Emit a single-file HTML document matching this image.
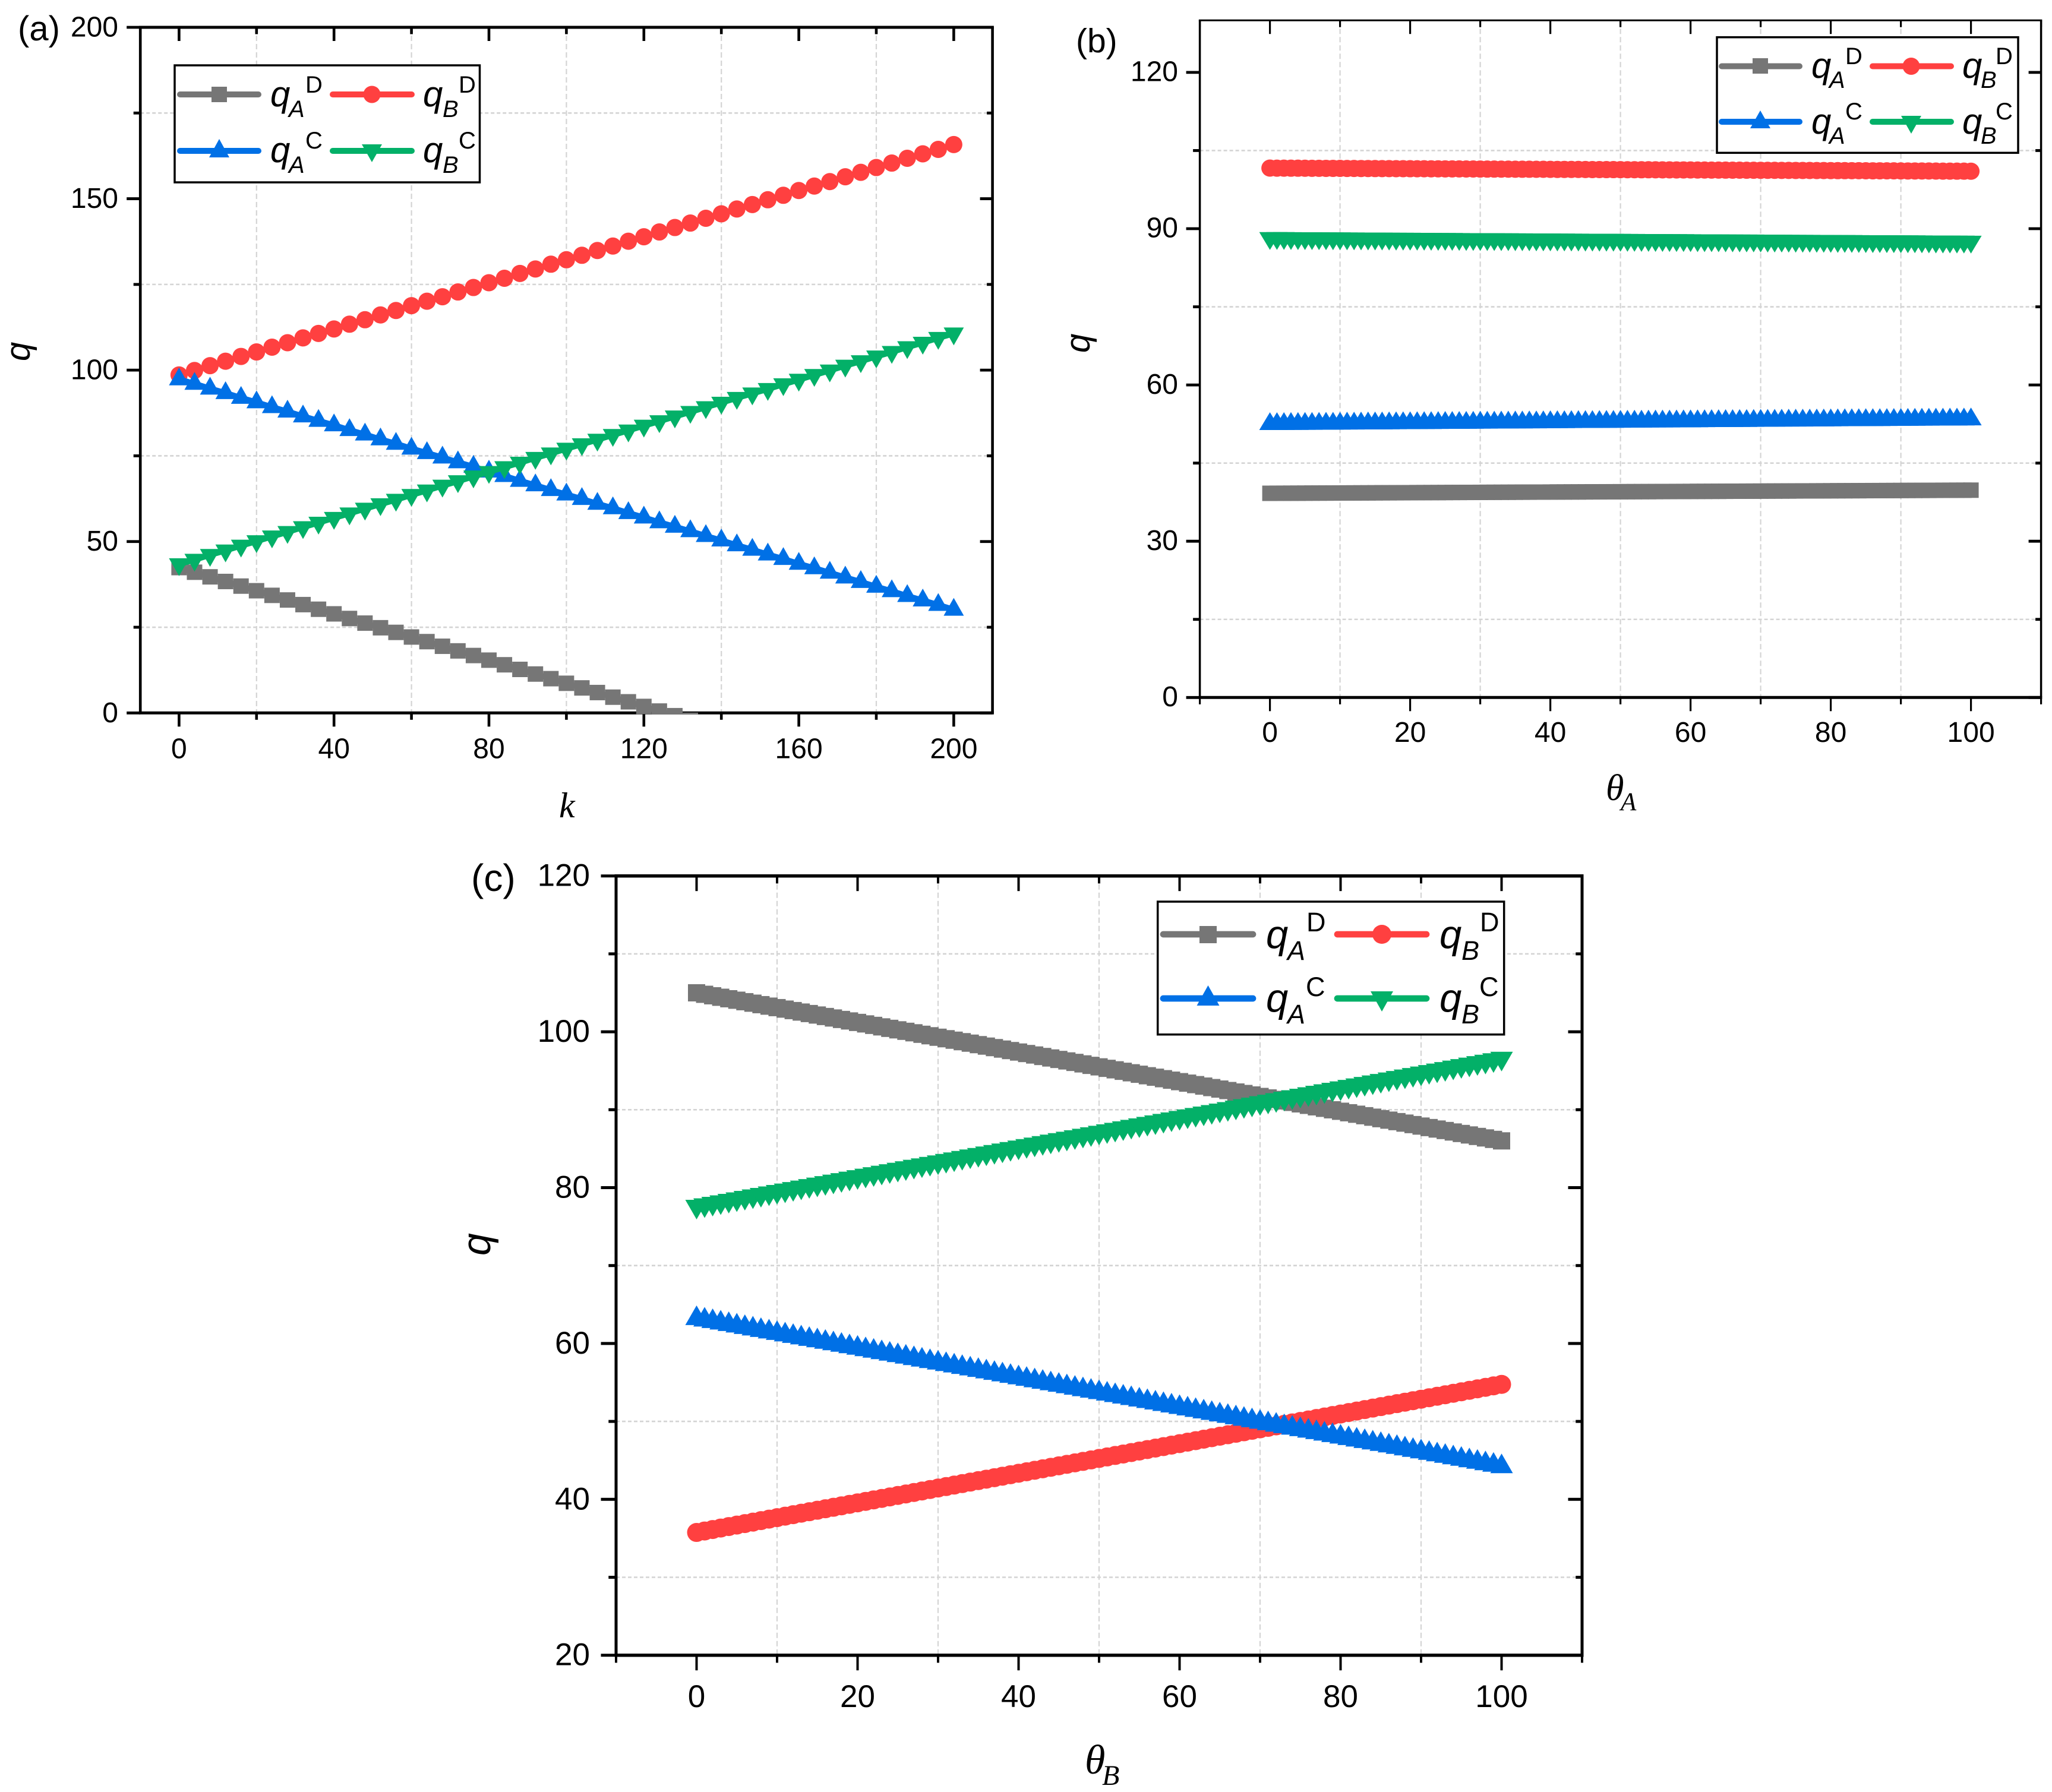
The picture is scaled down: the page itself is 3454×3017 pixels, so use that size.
<!DOCTYPE html>
<html lang="en">
<head>
<meta charset="utf-8">
<title>q versus k, theta A and theta B</title>
<style>
html,body{margin:0;padding:0;background:#fff;}
svg{display:block;}
text{font-family:"Liberation Sans",sans-serif;fill:#000;}
.q{font-style:italic;}
.sub{font-style:italic;}
.serif{font-family:"Liberation Serif",serif;font-style:italic;}
</style>
</head>
<body>
<svg id="chart" width="3454" height="3017" viewBox="0 0 3454 3017">
<rect x="0" y="0" width="3454" height="3017" fill="#fff"/>
<defs>
<clipPath id="clip-a"><rect x="236" y="46" width="1435" height="1156.5"/></clipPath>
<clipPath id="clip-b"><rect x="2019" y="34" width="1417" height="1143"/></clipPath>
<clipPath id="clip-c"><rect x="1037" y="1474" width="1626" height="1315"/></clipPath>
</defs>
<g id="panel-a"></g>
<g id="panel-b"></g>
<g id="panel-c"></g>

<!-- Panel labels and axis titles -->
<text x="30" y="68" font-size="58">(a)</text>
<text x="1811" y="88" font-size="57">(b)</text>
<text x="793" y="1500" font-size="64">(c)</text>

<text class="q" font-size="58" transform="translate(50,608) rotate(-90)">q</text>
<text class="q" font-size="58" transform="translate(1834,594) rotate(-90)">q</text>
<text class="q" font-size="68" transform="translate(825,2114) rotate(-90)">q</text>

<text class="serif" x="941" y="1376" font-size="60">k</text>
<g>
<text class="serif" x="2703" y="1347" font-size="62">θ</text>
<text class="serif" x="2728" y="1364" font-size="43">A</text>
</g>
<g>
<text class="serif" x="1826" y="2986" font-size="70">θ</text>
<text class="serif" x="1855" y="3005" font-size="48">B</text>
</g>

<!-- Legend panel a -->
<g>
<rect x="294" y="110" width="513.5" height="197" fill="#fff" stroke="#000" stroke-width="3.5"/>
<g>
<line x1="303" y1="159" x2="435" y2="159" stroke="#767676" stroke-width="10" stroke-linecap="round"/>
<rect x="356" y="146" width="26" height="26" fill="#767676"/>
<text class="q" x="455" y="179" font-size="60">q</text><text class="sub" x="486" y="197" font-size="40">A</text><text x="514" y="156" font-size="40">D</text>
</g>
<g>
<line x1="560" y1="159" x2="693" y2="159" stroke="#FF4040" stroke-width="10" stroke-linecap="round"/>
<circle cx="626" cy="159" r="14.5" fill="#FF4040"/>
<text class="q" x="712" y="179" font-size="60">q</text><text class="sub" x="745" y="197" font-size="40">B</text><text x="772" y="156" font-size="40">D</text>
</g>
<g>
<line x1="303" y1="254" x2="435" y2="254" stroke="#0070E6" stroke-width="10" stroke-linecap="round"/>
<polygon points="369,234 386,265 352,265" fill="#0070E6"/>
<text class="q" x="455" y="273" font-size="60">q</text><text class="sub" x="486" y="291" font-size="40">A</text><text x="514" y="250" font-size="40">C</text>
</g>
<g>
<line x1="560" y1="254" x2="693" y2="254" stroke="#03B068" stroke-width="10" stroke-linecap="round"/>
<polygon points="626,273 609,243 643,243" fill="#03B068"/>
<text class="q" x="712" y="273" font-size="60">q</text><text class="sub" x="745" y="291" font-size="40">B</text><text x="772" y="250" font-size="40">C</text>
</g>
</g>

<!-- Legend panel b -->
<g>
<rect x="2890" y="62.7" width="507" height="194.6" fill="#fff" stroke="#000" stroke-width="3.5"/>
<g>
<line x1="2898" y1="111.5" x2="3029" y2="111.5" stroke="#767676" stroke-width="10" stroke-linecap="round"/>
<rect x="2950" y="98" width="26" height="26" fill="#767676"/>
<text class="q" x="3049" y="131" font-size="60">q</text><text class="sub" x="3079" y="148" font-size="40">A</text><text x="3106" y="108" font-size="40">D</text>
</g>
<g>
<line x1="3152" y1="111.5" x2="3284" y2="111.5" stroke="#FF4040" stroke-width="10" stroke-linecap="round"/>
<circle cx="3217" cy="111.5" r="14.5" fill="#FF4040"/>
<text class="q" x="3303" y="131" font-size="60">q</text><text class="sub" x="3334" y="148" font-size="40">B</text><text x="3359" y="108" font-size="40">D</text>
</g>
<g>
<line x1="2898" y1="205" x2="3029" y2="205" stroke="#0070E6" stroke-width="10" stroke-linecap="round"/>
<polygon points="2963,186 2980,216 2946,216" fill="#0070E6"/>
<text class="q" x="3049" y="225" font-size="60">q</text><text class="sub" x="3079" y="242" font-size="40">A</text><text x="3106" y="201" font-size="40">C</text>
</g>
<g>
<line x1="3152" y1="205" x2="3284" y2="205" stroke="#03B068" stroke-width="10" stroke-linecap="round"/>
<polygon points="3217,225 3200,195 3234,195" fill="#03B068"/>
<text class="q" x="3303" y="225" font-size="60">q</text><text class="sub" x="3334" y="242" font-size="40">B</text><text x="3359" y="201" font-size="40">C</text>
</g>
</g>

<!-- Legend panel c -->
<g>
<rect x="1948.7" y="1518" width="583" height="223.7" fill="#fff" stroke="#000" stroke-width="3.5"/>
<g>
<line x1="1958" y1="1573" x2="2109" y2="1573" stroke="#767676" stroke-width="10.7" stroke-linecap="round"/>
<rect x="2019" y="1559" width="29" height="29" fill="#767676"/>
<text class="q" x="2131" y="1596" font-size="67">q</text><text class="sub" x="2167" y="1616" font-size="45">A</text><text x="2199" y="1568" font-size="45">D</text>
</g>
<g>
<line x1="2251" y1="1573" x2="2401" y2="1573" stroke="#FF4040" stroke-width="10.7" stroke-linecap="round"/>
<circle cx="2326" cy="1573" r="16" fill="#FF4040"/>
<text class="q" x="2423" y="1596" font-size="67">q</text><text class="sub" x="2460" y="1616" font-size="45">B</text><text x="2491" y="1568" font-size="45">D</text>
</g>
<g>
<line x1="1958" y1="1681" x2="2109" y2="1681" stroke="#0070E6" stroke-width="10.7" stroke-linecap="round"/>
<polygon points="2033.5,1659 2052.5,1693 2014.5,1693" fill="#0070E6"/>
<text class="q" x="2131" y="1703" font-size="67">q</text><text class="sub" x="2167" y="1723" font-size="45">A</text><text x="2198" y="1677" font-size="45">C</text>
</g>
<g>
<line x1="2251" y1="1681" x2="2401" y2="1681" stroke="#03B068" stroke-width="10.7" stroke-linecap="round"/>
<polygon points="2326,1703 2307,1669 2345,1669" fill="#03B068"/>
<text class="q" x="2423" y="1703" font-size="67">q</text><text class="sub" x="2460" y="1723" font-size="45">B</text><text x="2490" y="1677" font-size="45">C</text>
</g>
</g>
</svg>

<script>
// ---------- Panel (a) data ----------
const kValues = [0,4,8,12,16,20,24,28,32,36,40,44,48,52,56,60,64,68,72,76,80,84,88,92,96,100,104,108,112,116,120,124,128,132,136,140,144,148,152,156,160,164,168,172,176,180,184,188,192,196,200];
const aQAD = [42.4,41.05,39.7,38.35,37.0,35.65,34.3,32.95,31.6,30.25,28.9,27.55,26.2,24.85,23.5,22.15,20.8,19.45,18.1,16.75,15.4,14.05,12.7,11.35,10.0,8.65,7.3,5.95,4.6,3.25,1.9,0.55,-0.8,-2.15,-3.5,-4.85,-6.2,-7.55,-8.9,-10.25,-11.6,-12.95,-14.3,-15.65,-17.0,-18.35,-19.7,-21.05,-22.4,-23.75,-25.1];
const aQBD = [98.6,99.9,101.3,102.6,104.0,105.3,106.7,108.0,109.4,110.7,112.0,113.4,114.7,116.1,117.4,118.8,120.1,121.4,122.8,124.1,125.5,126.8,128.2,129.5,130.9,132.2,133.5,134.9,136.2,137.6,138.9,140.3,141.6,142.9,144.3,145.6,147.0,148.3,149.7,151.0,152.4,153.7,155.0,156.4,157.7,159.1,160.4,161.8,163.1,164.4,165.8];
const aQAC = [97.3,96.0,94.6,93.3,91.9,90.6,89.2,87.9,86.5,85.2,83.9,82.5,81.2,79.8,78.5,77.1,75.8,74.5,73.1,71.8,70.4,69.1,67.7,66.4,65.0,63.7,62.4,61.0,59.7,58.3,57.0,55.6,54.3,53.0,51.6,50.3,48.9,47.6,46.2,44.9,43.5,42.2,40.9,39.5,38.2,36.8,35.5,34.1,32.8,31.5,30.1];
const aQBC = [43.4,44.7,46.1,47.4,48.8,50.1,51.5,52.8,54.2,55.5,56.9,58.2,59.6,60.9,62.2,63.6,64.9,66.3,67.6,69.0,70.3,71.7,73.0,74.4,75.7,77.1,78.4,79.7,81.1,82.4,83.8,85.1,86.5,87.8,89.2,90.5,91.9,93.2,94.5,95.9,97.2,98.6,99.9,101.3,102.6,104.0,105.3,106.7,108.0,109.4,110.7];
const aXTicks = [0,40,80,120,160,200];
const aXMinor = [20,60,100,140,180];
const aYTicks = [0,50,100,150,200];
const aYMinor = [25,75,125,175];

// ---------- Shared theta axis values ----------
const thetaValues = [0,1,2,3,4,5,6,7,8,9,10,11,12,13,14,15,16,17,18,19,20,21,22,23,24,25,26,27,28,29,30,31,32,33,34,35,36,37,38,39,40,41,42,43,44,45,46,47,48,49,50,51,52,53,54,55,56,57,58,59,60,61,62,63,64,65,66,67,68,69,70,71,72,73,74,75,76,77,78,79,80,81,82,83,84,85,86,87,88,89,90,91,92,93,94,95,96,97,98,99,100];
const thetaXTicks = [0,20,40,60,80,100];
const thetaXMinor = [-10,10,30,50,70,90,110];

// ---------- Panel (b) data ----------
const bQAD = [39.20,39.21,39.21,39.22,39.22,39.23,39.24,39.24,39.25,39.25,39.26,39.27,39.27,39.28,39.28,39.29,39.30,39.30,39.31,39.31,39.32,39.33,39.33,39.34,39.34,39.35,39.36,39.36,39.37,39.37,39.38,39.39,39.39,39.40,39.40,39.41,39.42,39.42,39.43,39.43,39.44,39.45,39.45,39.46,39.46,39.47,39.48,39.48,39.49,39.49,39.50,39.51,39.51,39.52,39.52,39.53,39.54,39.54,39.55,39.55,39.56,39.57,39.57,39.58,39.58,39.59,39.60,39.60,39.61,39.61,39.62,39.63,39.63,39.64,39.64,39.65,39.66,39.66,39.67,39.67,39.68,39.69,39.69,39.70,39.70,39.71,39.72,39.72,39.73,39.73,39.74,39.75,39.75,39.76,39.76,39.77,39.78,39.78,39.79,39.79,39.80];
const bQBD = [101.63,101.62,101.62,101.61,101.61,101.60,101.59,101.59,101.58,101.58,101.57,101.56,101.56,101.55,101.55,101.54,101.53,101.53,101.52,101.52,101.51,101.50,101.50,101.49,101.49,101.48,101.47,101.47,101.46,101.46,101.45,101.44,101.44,101.43,101.43,101.42,101.41,101.41,101.40,101.40,101.39,101.38,101.38,101.37,101.37,101.36,101.35,101.35,101.34,101.34,101.33,101.32,101.32,101.31,101.31,101.30,101.29,101.29,101.28,101.28,101.27,101.26,101.26,101.25,101.25,101.24,101.23,101.23,101.22,101.22,101.21,101.20,101.20,101.19,101.19,101.18,101.17,101.17,101.16,101.16,101.15,101.14,101.14,101.13,101.13,101.12,101.11,101.11,101.10,101.10,101.09,101.08,101.08,101.07,101.07,101.06,101.05,101.05,101.04,101.04,101.03];
const bQAC = [52.48,52.49,52.50,52.51,52.52,52.53,52.53,52.54,52.55,52.56,52.57,52.58,52.59,52.60,52.61,52.62,52.62,52.63,52.64,52.65,52.66,52.67,52.68,52.69,52.70,52.71,52.71,52.72,52.73,52.74,52.75,52.76,52.77,52.78,52.79,52.80,52.80,52.81,52.82,52.83,52.84,52.85,52.86,52.87,52.88,52.89,52.89,52.90,52.91,52.92,52.93,52.94,52.95,52.96,52.97,52.98,52.98,52.99,53.00,53.01,53.02,53.03,53.04,53.05,53.06,53.07,53.07,53.08,53.09,53.10,53.11,53.12,53.13,53.14,53.15,53.16,53.16,53.17,53.18,53.19,53.20,53.21,53.22,53.23,53.24,53.25,53.25,53.26,53.27,53.28,53.29,53.30,53.31,53.32,53.33,53.34,53.34,53.35,53.36,53.37,53.38];
const bQBC = [88.21,88.20,88.20,88.19,88.18,88.17,88.17,88.16,88.15,88.15,88.14,88.13,88.13,88.12,88.11,88.10,88.10,88.09,88.08,88.08,88.07,88.06,88.06,88.05,88.04,88.03,88.03,88.02,88.01,88.01,88.00,87.99,87.99,87.98,87.97,87.96,87.96,87.95,87.94,87.94,87.93,87.92,87.92,87.91,87.90,87.89,87.89,87.88,87.87,87.87,87.86,87.85,87.85,87.84,87.83,87.82,87.82,87.81,87.80,87.80,87.79,87.78,87.78,87.77,87.76,87.75,87.75,87.74,87.73,87.73,87.72,87.71,87.71,87.70,87.69,87.68,87.68,87.67,87.66,87.66,87.65,87.64,87.64,87.63,87.62,87.61,87.61,87.60,87.59,87.59,87.58,87.57,87.57,87.56,87.55,87.54,87.54,87.53,87.52,87.52,87.51];
const bYTicks = [0,30,60,90,120];
const bYMinor = [15,45,75,105];

// ---------- Panel (c) data ----------
const cQAD = [105.00,104.81,104.62,104.43,104.24,104.05,103.86,103.67,103.48,103.29,103.10,102.91,102.72,102.53,102.34,102.15,101.96,101.77,101.58,101.39,101.20,101.01,100.82,100.63,100.44,100.25,100.06,99.87,99.68,99.49,99.30,99.11,98.92,98.73,98.54,98.35,98.16,97.97,97.78,97.59,97.40,97.21,97.02,96.83,96.64,96.45,96.26,96.07,95.88,95.69,95.50,95.31,95.12,94.93,94.74,94.55,94.36,94.17,93.98,93.79,93.60,93.41,93.22,93.03,92.84,92.65,92.46,92.27,92.08,91.89,91.70,91.51,91.32,91.13,90.94,90.75,90.56,90.37,90.18,89.99,89.80,89.61,89.42,89.23,89.04,88.85,88.66,88.47,88.28,88.09,87.90,87.71,87.52,87.33,87.14,86.95,86.76,86.57,86.38,86.19,86.00];
const cQBD = [35.75,35.94,36.13,36.32,36.51,36.70,36.89,37.08,37.27,37.46,37.65,37.84,38.03,38.22,38.41,38.60,38.79,38.98,39.17,39.36,39.55,39.74,39.93,40.12,40.31,40.50,40.69,40.88,41.07,41.26,41.45,41.64,41.83,42.02,42.21,42.40,42.59,42.78,42.97,43.16,43.35,43.54,43.73,43.92,44.11,44.30,44.49,44.68,44.87,45.06,45.25,45.44,45.63,45.82,46.01,46.20,46.39,46.58,46.77,46.96,47.15,47.34,47.53,47.72,47.91,48.10,48.29,48.48,48.67,48.86,49.05,49.24,49.43,49.62,49.81,50.00,50.19,50.38,50.57,50.76,50.95,51.14,51.33,51.52,51.71,51.90,52.09,52.28,52.47,52.66,52.85,53.04,53.23,53.42,53.61,53.80,53.99,54.18,54.37,54.56,54.75];
const cQAC = [63.20,63.01,62.82,62.63,62.44,62.25,62.06,61.87,61.68,61.49,61.30,61.11,60.92,60.73,60.54,60.35,60.16,59.97,59.78,59.59,59.40,59.21,59.02,58.83,58.64,58.45,58.26,58.07,57.88,57.69,57.50,57.31,57.12,56.93,56.74,56.55,56.36,56.17,55.98,55.79,55.60,55.41,55.22,55.03,54.84,54.65,54.46,54.27,54.08,53.89,53.70,53.51,53.32,53.13,52.94,52.75,52.56,52.37,52.18,51.99,51.80,51.61,51.42,51.23,51.04,50.85,50.66,50.47,50.28,50.09,49.90,49.71,49.52,49.33,49.14,48.95,48.76,48.57,48.38,48.19,48.00,47.81,47.62,47.43,47.24,47.05,46.86,46.67,46.48,46.29,46.10,45.91,45.72,45.53,45.34,45.15,44.96,44.77,44.58,44.39,44.20];
const cQBC = [77.60,77.79,77.98,78.17,78.36,78.55,78.74,78.93,79.12,79.31,79.50,79.69,79.88,80.07,80.26,80.45,80.64,80.83,81.02,81.21,81.40,81.59,81.78,81.97,82.16,82.35,82.54,82.73,82.92,83.11,83.30,83.49,83.68,83.87,84.06,84.25,84.44,84.63,84.82,85.01,85.20,85.39,85.58,85.77,85.96,86.15,86.34,86.53,86.72,86.91,87.10,87.29,87.48,87.67,87.86,88.05,88.24,88.43,88.62,88.81,89.00,89.19,89.38,89.57,89.76,89.95,90.14,90.33,90.52,90.71,90.90,91.09,91.28,91.47,91.66,91.85,92.04,92.23,92.42,92.61,92.80,92.99,93.18,93.37,93.56,93.75,93.94,94.13,94.32,94.51,94.70,94.89,95.08,95.27,95.46,95.65,95.84,96.03,96.22,96.41,96.60];
const cYTicks = [20,40,60,80,100,120];
const cYMinor = [30,50,70,90,110];

// ---------- Rendering ----------
const NS = document.getElementById('chart').namespaceURI;
const GRAY = '#767676', RED = '#FF4040', BLUE = '#0070E6', GREEN = '#03B068';

function make(parent, tag, attrs) {
  const el = document.createElementNS(NS, tag);
  for (const key in attrs) el.setAttribute(key, attrs[key]);
  parent.appendChild(el);
  return el;
}

function drawAxes(p) {
  const g = document.getElementById(p.id);
  const xPos = v => p.left + (v - p.xMin) / (p.xMax - p.xMin) * (p.right - p.left);
  const yPos = v => p.bottom - (v - p.yMin) / (p.yMax - p.yMin) * (p.bottom - p.top);
  p.xPos = xPos;
  p.yPos = yPos;

  // grid at minor tick positions
  p.xMinor.forEach(v => {
    if (v <= p.xMin || v >= p.xMax) return;
    const l = make(g, 'line', {x1: xPos(v), x2: xPos(v), y1: p.top, y2: p.bottom, stroke: '#d4d4d4', 'stroke-width': 2.2, 'stroke-dasharray': '9 5'});
    
    
  });
  p.yMinor.forEach(v => {
    const l = make(g, 'line', {x1: p.left, x2: p.right, y1: yPos(v), y2: yPos(v), stroke: '#d4d4d4', 'stroke-width': 2.6, 'stroke-dasharray': '6 4'});
    
    
  });

  // frame
  const top = make(g, 'line', {x1: p.left - p.vw / 2, x2: p.right + p.vw / 2, y1: p.top, y2: p.top, stroke: '#000', 'stroke-width': p.topW});
  
  
  const bottom = make(g, 'line', {x1: p.left - p.vw / 2, x2: p.right + p.vw / 2, y1: p.bottom, y2: p.bottom, stroke: '#000', 'stroke-width': p.bottomW});
  
  
  const left = make(g, 'line', {x1: p.left, x2: p.left, y1: p.top, y2: p.bottom, stroke: '#000', 'stroke-width': p.vw});
  
  
  const right = make(g, 'line', {x1: p.right, x2: p.right, y1: p.top, y2: p.bottom, stroke: '#000', 'stroke-width': p.vw});
  
  

  // x ticks (bottom outward, top inward)
  const xTick = (v, len) => {
    const a = make(g, 'line', {x1: xPos(v), x2: xPos(v), y1: p.bottom, y2: p.bottom + len, stroke: '#000', 'stroke-width': p.xTickW});
    
    
    const b = make(g, 'line', {x1: xPos(v), x2: xPos(v), y1: p.top, y2: p.top + len, stroke: '#000', 'stroke-width': p.xTickW});
    
    
  };
  p.xTicks.forEach(v => xTick(v, p.major));
  p.xMinor.forEach(v => xTick(v, p.minor));

  // y ticks (left outward, right inward)
  const yTick = (v, len) => {
    const a = make(g, 'line', {x1: p.left - len, x2: p.left, y1: yPos(v), y2: yPos(v), stroke: '#000', 'stroke-width': p.yTickW});
    
    
    const b = make(g, 'line', {x1: p.right - len + 2, x2: p.right, y1: yPos(v), y2: yPos(v), stroke: '#000', 'stroke-width': p.yTickW});
    
    
  };
  p.yTicks.forEach(v => yTick(v, p.major));
  p.yMinor.forEach(v => yTick(v, p.minor));

  // tick labels
  p.xTicks.forEach(v => {
    const t = make(g, 'text', {x: xPos(v), y: p.xLabelY, 'text-anchor': 'middle', 'font-size': p.fontSize});
    
    
    t.textContent = v;
  });
  p.yTicks.forEach(v => {
    const t = make(g, 'text', {x: p.yLabelX, y: yPos(v) + p.yLabelDy, 'text-anchor': 'end', 'font-size': p.fontSize});
    
    
    t.textContent = v;
  });
}

function drawSeries(p, name, xs, ys, color, shape) {
  const g = document.getElementById(p.id);
  const s = make(g, 'g', {'clip-path': 'url(#' + p.clip + ')', fill: color});
  
  
  const d = xs.map((x, i) => (i ? 'L' : 'M') + p.xPos(x).toFixed(2) + ' ' + p.yPos(ys[i]).toFixed(2)).join('');
  const line = make(s, 'path', {d: d, fill: 'none', stroke: color, 'stroke-width': p.lineW, 'stroke-linejoin': 'round'});
  
  
  xs.forEach((x, i) => {
    const cx = p.xPos(x), cy = p.yPos(ys[i]);
    let m;
    if (shape === 'square') {
      m = make(s, 'rect', {x: cx - p.sq / 2, y: cy - p.sq / 2, width: p.sq, height: p.sq});
    } else if (shape === 'circle') {
      m = make(s, 'circle', {cx: cx, cy: cy, r: p.dot / 2});
    } else if (shape === 'up') {
      m = make(s, 'polygon', {points: cx + ',' + (cy - p.triH * 2 / 3) + ' ' + (cx + p.triW / 2) + ',' + (cy + p.triH / 3) + ' ' + (cx - p.triW / 2) + ',' + (cy + p.triH / 3)});
    } else {
      m = make(s, 'polygon', {points: cx + ',' + (cy + p.triH * 2 / 3) + ' ' + (cx + p.triW / 2) + ',' + (cy - p.triH / 3) + ' ' + (cx - p.triW / 2) + ',' + (cy - p.triH / 3)});
    }
    
    
  });
}

const panelA = {id: 'panel-a', clip: 'clip-a', xMin: -10, xMax: 210, yMin: 0, yMax: 200, left: 236.2, right: 1670.6, top: 46, bottom: 1200.3,
  xTicks: aXTicks, xMinor: aXMinor, yTicks: aYTicks, yMinor: aYMinor, major: 23, minor: 11.5,
  topW: 5, bottomW: 5, vw: 4.6, xTickW: 4.6, yTickW: 4.8, fontSize: 48, xLabelY: 1276.7, yLabelX: 199, yLabelDy: 15.5,
  lineW: 10, sq: 26, dot: 29, triW: 34, triH: 30};
const panelB = {id: 'panel-b', clip: 'clip-b', xMin: -10, xMax: 110, yMin: 0, yMax: 130, left: 2019.6, right: 3435.6, top: 34.2, bottom: 1174.3,
  xTicks: thetaXTicks, xMinor: thetaXMinor, yTicks: bYTicks, yMinor: bYMinor, major: 23, minor: 11.5,
  topW: 3, bottomW: 5, vw: 3.5, xTickW: 3.2, yTickW: 4.8, fontSize: 48, xLabelY: 1249, yLabelX: 1983, yLabelDy: 14.7,
  lineW: 10, sq: 26, dot: 29, triW: 36, triH: 30};
const panelC = {id: 'panel-c', clip: 'clip-c', xMin: -10, xMax: 110, yMin: 20, yMax: 120, left: 1037, right: 2663, top: 1474.7, bottom: 2786.7,
  xTicks: thetaXTicks, xMinor: thetaXMinor, yTicks: cYTicks, yMinor: cYMinor, major: 25.5, minor: 12.7,
  topW: 5.5, bottomW: 5.5, vw: 5, xTickW: 4, yTickW: 5, fontSize: 53, xLabelY: 2874, yLabelX: 993, yLabelDy: 17,
  lineW: 10.7, sq: 29, dot: 32, triW: 38, triH: 33};

drawAxes(panelA);
drawSeries(panelA, 'series-qa-d', kValues, aQAD, GRAY, 'square');
drawSeries(panelA, 'series-qb-d', kValues, aQBD, RED, 'circle');
drawSeries(panelA, 'series-qa-c', kValues, aQAC, BLUE, 'up');
drawSeries(panelA, 'series-qb-c', kValues, aQBC, GREEN, 'down');

drawAxes(panelB);
drawSeries(panelB, 'series-qa-d', thetaValues, bQAD, GRAY, 'square');
drawSeries(panelB, 'series-qb-d', thetaValues, bQBD, RED, 'circle');
drawSeries(panelB, 'series-qa-c', thetaValues, bQAC, BLUE, 'up');
drawSeries(panelB, 'series-qb-c', thetaValues, bQBC, GREEN, 'down');

drawAxes(panelC);
drawSeries(panelC, 'series-qa-d', thetaValues, cQAD, GRAY, 'square');
drawSeries(panelC, 'series-qb-d', thetaValues, cQBD, RED, 'circle');
drawSeries(panelC, 'series-qa-c', thetaValues, cQAC, BLUE, 'up');
drawSeries(panelC, 'series-qb-c', thetaValues, cQBC, GREEN, 'down');
</script>
</body>
</html>
